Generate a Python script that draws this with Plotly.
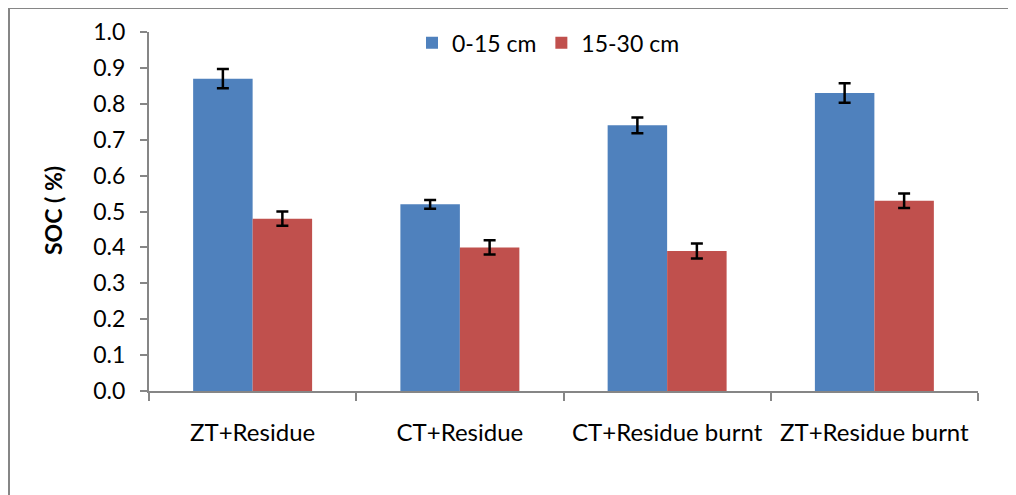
import plotly.graph_objects as go

categories = ["ZT+Residue", "CT+Residue", "CT+Residue burnt", "ZT+Residue burnt"]
soc_0_15 = [0.87, 0.52, 0.74, 0.83]
soc_15_30 = [0.48, 0.40, 0.39, 0.53]
err_0_15 = [0.027, 0.012, 0.022, 0.027]
err_15_30 = [0.02, 0.02, 0.021, 0.02]
series_names = ["0-15 cm", "15-30 cm"]
y_ticks = [0.0, 0.1, 0.2, 0.3, 0.4, 0.5, 0.6, 0.7, 0.8, 0.9, 1.0]

FONT = "Lato"
OFF = 7  # page offset of the figure (body margin)
W, H = 1016 - OFF, 495 - OFF
L, R, T, B = 148 - OFF, 977 - OFF, 31 - OFF, 390 - OFF
PW, PH = R - L, B - T

fig = go.Figure()
fig.add_trace(go.Bar(
    x=categories, y=soc_0_15, name=series_names[0],
    marker=dict(color="#4F81BD", line=dict(width=0)),
    error_y=dict(type="data", array=err_0_15, color="black", thickness=2.5, width=6),
))
fig.add_trace(go.Bar(
    x=categories, y=soc_15_30, name=series_names[1],
    marker=dict(color="#C0504D", line=dict(width=0)),
    error_y=dict(type="data", array=err_15_30, color="black", thickness=2.5, width=6),
))

fig.update_layout(
    width=W, height=H,
    margin=dict(l=L, r=W - R, t=T, b=H - B),
    paper_bgcolor="white", plot_bgcolor="white",
    barmode="group", bargap=0.426, bargroupgap=0,
    font=dict(family=FONT, size=23, color="black"),
    showlegend=True,
    legend=dict(orientation="h", x=(411 - OFF - L) / PW, y=1.03, xanchor="left", yanchor="top",
                font=dict(family=FONT, size=23), bgcolor="rgba(0,0,0,0)",
                itemwidth=30, tracegroupgap=0),
    xaxis=dict(
        automargin=False,
        showline=True, linecolor="#868686", linewidth=2,
        ticks="outside", ticklen=8, tickcolor="#868686", tickwidth=2,
        tickson="boundaries", showgrid=False,
        tickfont=dict(family=FONT, size=24),
        ticklabelstandoff=19,
        range=[-0.5, 3.5],
    ),
    yaxis=dict(
        automargin=False,
        range=[0, 1.0], tickvals=y_ticks, ticktext=[f"{v:.1f}" for v in y_ticks],
        showline=True, linecolor="#868686", linewidth=2,
        ticks="outside", ticklen=7, tickcolor="#868686", tickwidth=2,
        showgrid=False, zeroline=False,
        tickfont=dict(family=FONT, size=23),
        ticklabelstandoff=10,
    ),
    annotations=[
        dict(text="<b>SOC ( %)</b>", xref="paper", yref="paper",
             x=(52 - OFF - L) / PW, y=(B - (210 - OFF)) / PH, textangle=-90,
             showarrow=False, xanchor="center", yanchor="middle",
             font=dict(family=FONT, size=23, color="black")),
    ],
    shapes=[
        dict(type="line", xref="paper", yref="paper",
             x0=(8 - OFF - L) / PW, x1=(1030 - OFF - L) / PW,
             y0=(B - (7 - OFF)) / PH, y1=(B - (7 - OFF)) / PH,
             line=dict(color="#868686", width=2)),
        dict(type="line", xref="paper", yref="paper",
             x0=(8 - OFF - L) / PW, x1=(8 - OFF - L) / PW,
             y0=(B - (7 - OFF)) / PH, y1=-0.5,
             line=dict(color="#868686", width=2)),
    ],
)

fig.write_html("out.html")
